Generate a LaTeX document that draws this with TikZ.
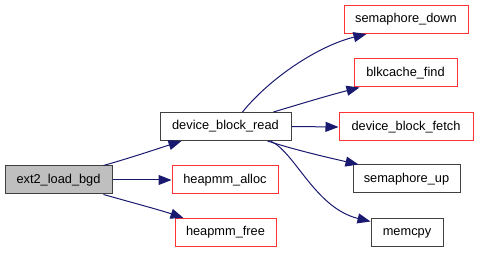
\documentclass[tikz,border=0pt]{standalone}
\usepackage{fontspec}
\setmainfont{Liberation Sans}
\usetikzlibrary{arrows.meta,calc}
\definecolor{edgeblue}{HTML}{191970}
\definecolor{boxred}{HTML}{FF3333}
\definecolor{rootfill}{HTML}{BFBFBF}
\begin{document}
\begin{tikzpicture}[x=1pt,y=-1pt,
  fn/.style={draw=black!75, line width=1pt, fill=white, minimum height=28pt,
    inner sep=0pt, font=\fontsize{12.8}{15}\selectfont},
  fnred/.style={fn, draw=boxred},
  root/.style={fn, fill=rootfill},
  call/.style={draw=edgeblue, line width=1pt,
    -{Triangle[length=13pt,width=10pt]}, shorten >=0pt}]
\useasboundingbox (0,0) rectangle (480,253);

% functions
\node[root,  minimum width=107pt] (ext2)   at (58.5,180)  {ext2\_load\_bgd};
\node[fn,    minimum width=131pt] (dbr)    at (225.5,126.5) {device\_block\_read};
\node[fnred, minimum width=106pt] (alloc)  at (225,180)   {heapmm\_alloc};
\node[fnred, minimum width=101pt] (free)   at (225.5,232.5) {heapmm\_free};
\node[fnred, minimum width=124pt] (sdown)  at (406,19.5)  {semaphore\_down};
\node[fnred, minimum width=103pt] (blk)    at (405.5,73)  {blkcache\_find};
\node[fnred, minimum width=134pt] (fetch)  at (406,127)   {device\_block\_fetch};
\node[fn,    minimum width=107pt] (sup)    at (406.5,179) {semaphore\_up};
\node[fn,    minimum width=72pt]  (memcpy) at (407,233)   {memcpy};

% calls made by ext2_load_bgd
\draw[call] ($(ext2.north east)+(-9,0)$) .. controls (130,158) and (160,148) .. ($(dbr.south west)+(22,0)$);
\draw[call] (ext2.east) -- (alloc.west);
\draw[call] ($(ext2.south east)+(-9,0)$) .. controls (130,202) and (160,210) .. ($(free.north west)+(9,0)$);

% calls made by device_block_read
\draw[call] ($(dbr.north)+(17,0)$) .. controls (270,78) and (318,46) .. ($(sdown.south west)+(23,0)$);
\draw[call] ($(dbr.north)+(48,0)$) .. controls (300,104) and (330,95) .. ($(blk.south west)+(6,0)$);
\draw[call] (dbr.east) -- (fetch.west);
\draw[call] ($(dbr.south east)+(-24,0)$) .. controls (295,150) and (330,158) .. ($(sup.north west)+(6,0)$);
\draw[call] ($(dbr.south east)+(-21,0)$) .. controls (295,152) and (315,208) .. ($(memcpy.north west)+(0,3)$);
\end{tikzpicture}
\end{document}
